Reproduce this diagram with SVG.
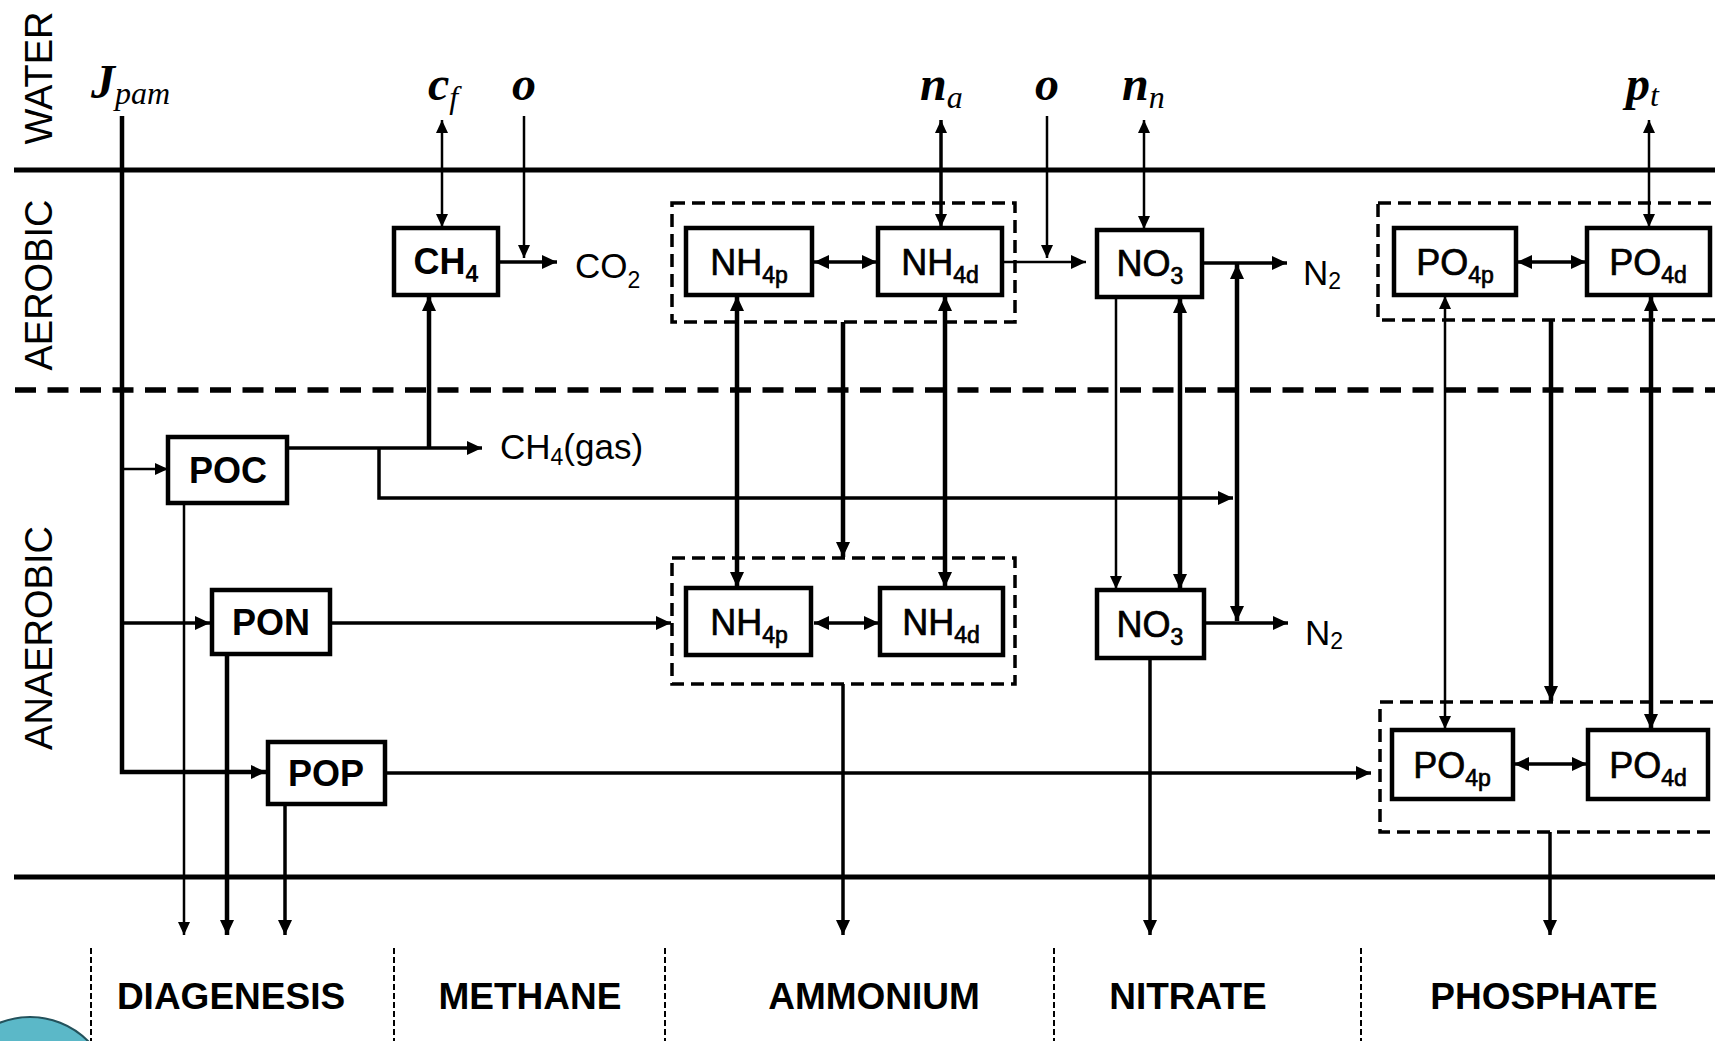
<svg xmlns="http://www.w3.org/2000/svg" width="1715" height="1041" viewBox="0 0 1715 1041">
<style>
.bx{fill:#fff;stroke:#000;stroke-width:4.5}
.db{fill:none;stroke:#000;stroke-width:3.5;stroke-dasharray:13 7}
.lb{font-family:"Liberation Sans",Arial,sans-serif;font-size:36px;text-anchor:middle;fill:#000;stroke:#000;stroke-width:0.7}
.bd{font-weight:bold;stroke-width:0}
.sub{font-size:23px}
.it{font-family:"Liberation Serif","Times New Roman",serif;font-style:italic;font-weight:bold;font-size:48px;fill:#000}
.its{font-size:32px;font-weight:normal}
.zone{font-family:"Liberation Sans",Arial,sans-serif;font-size:38px;text-anchor:middle;fill:#000}
.cat{font-family:"Liberation Sans",Arial,sans-serif;font-size:37px;font-weight:bold;text-anchor:middle;fill:#000}
.pl{font-family:"Liberation Sans",Arial,sans-serif;font-size:35px;fill:#000}
.c{fill:none;stroke:#000;stroke-linejoin:miter}
.t{stroke-width:2.5}
.m{stroke-width:3.5}
.k{stroke-width:4.5}
.sep{stroke:#000;stroke-width:2;stroke-dasharray:6 3}
</style>
<defs>
<marker id="a" markerUnits="userSpaceOnUse" markerWidth="15" markerHeight="14" refX="15" refY="7" orient="auto-start-reverse" viewBox="0 0 15 14"><path d="M0,0 L15,7 L0,14 z" fill="#000"/></marker>
<marker id="s" markerUnits="userSpaceOnUse" markerWidth="13" markerHeight="12" refX="13" refY="6" orient="auto-start-reverse" viewBox="0 0 13 12"><path d="M0,0 L13,6 L0,12 z" fill="#000"/></marker>
</defs>
<rect width="1715" height="1041" fill="#fff"/>

<g id="layers">
<line x1="14" y1="170" x2="1715" y2="170" stroke="#000" stroke-width="5"/>
<line x1="15" y1="390" x2="1715" y2="390" stroke="#000" stroke-width="5.5" stroke-dasharray="21 11.5"/>
<line x1="14" y1="877" x2="1715" y2="877" stroke="#000" stroke-width="5"/>
<text class="zone" transform="translate(52,78) rotate(-90)">WATER</text>
<text class="zone" transform="translate(52,285) rotate(-90)">AEROBIC</text>
<text class="zone" transform="translate(52,638) rotate(-90)">ANAEROBIC</text>
</g>

<g id="water-labels">
<text class="it" x="91" y="98">J<tspan class="its" dy="6">pam</tspan></text>
<text class="it" x="428" y="100">c<tspan class="its" dy="8">f</tspan></text>
<text class="it" x="524" y="100" text-anchor="middle">o</text>
<text class="it" x="920" y="100">n<tspan class="its" dy="8">a</tspan></text>
<text class="it" x="1047" y="100" text-anchor="middle">o</text>
<text class="it" x="1122" y="100">n<tspan class="its" dy="8">n</tspan></text>
<text class="it" x="1626" y="100">p<tspan class="its" dy="6">t</tspan></text>
</g>

<g id="products">
<text class="pl" x="575" y="278">CO<tspan class="sub" dy="10">2</tspan></text>
<text class="pl" x="1303" y="285">N<tspan class="sub" dy="4">2</tspan></text>
<text class="pl" x="1305" y="645">N<tspan class="sub" dy="4">2</tspan></text>
<text class="pl" x="500" y="459">CH<tspan class="sub" dy="6">4</tspan><tspan dy="-6">(gas)</tspan></text>
</g>

<g id="connectors">
<path class="c k" d="M122,116 V772 H266" marker-end="url(#a)"/>
<path class="c t" d="M122,469 H168" marker-end="url(#s)"/>
<path class="c m" d="M122,623 H210" marker-end="url(#a)"/>
<path class="c t" d="M442,120 V227" marker-start="url(#s)" marker-end="url(#s)"/>
<path class="c t" d="M524,116 V258" marker-end="url(#s)"/>
<path class="c m" d="M941,120 V227" marker-start="url(#s)" marker-end="url(#s)"/>
<path class="c t" d="M1047,116 V258" marker-end="url(#s)"/>
<path class="c t" d="M1144,120 V229" marker-start="url(#s)" marker-end="url(#s)"/>
<path class="c t" d="M1649,120 V227" marker-start="url(#s)" marker-end="url(#s)"/>
<path class="c m" d="M498,262 H557" marker-end="url(#a)"/>
<path class="c m" d="M814,262 H877" marker-start="url(#a)" marker-end="url(#a)"/>
<path class="c t" d="M1003,262 H1086" marker-end="url(#a)"/>
<path class="c m" d="M1203,263 H1287" marker-end="url(#a)"/>
<path class="c m" d="M1517,262 H1586" marker-start="url(#a)" marker-end="url(#a)"/>
<path class="c m" d="M287,448 H482" marker-end="url(#a)"/>
<path class="c k" d="M429,448 V296" marker-end="url(#a)"/>
<path class="c m" d="M379,448 V498 H1233" marker-end="url(#a)"/>
<path class="c t" d="M184,503 V935" marker-end="url(#s)"/>
<path class="c m" d="M330,623 H671" marker-end="url(#a)"/>
<path class="c k" d="M227,654 V935" marker-end="url(#a)"/>
<path class="c m" d="M385,773 H1371" marker-end="url(#a)"/>
<path class="c m" d="M285,804 V935" marker-end="url(#a)"/>
<path class="c k" d="M737,296 V587" marker-start="url(#a)" marker-end="url(#a)"/>
<path class="c k" d="M843,322 V557" marker-end="url(#a)"/>
<path class="c k" d="M945,296 V587" marker-start="url(#a)" marker-end="url(#a)"/>
<path class="c m" d="M843,684 V935" marker-end="url(#a)"/>
<path class="c m" d="M814,623 H879" marker-start="url(#a)" marker-end="url(#a)"/>
<path class="c t" d="M1116,297 V589" marker-end="url(#s)"/>
<path class="c k" d="M1180,298 V589" marker-start="url(#a)" marker-end="url(#a)"/>
<path class="c k" d="M1237,264 V621" marker-start="url(#a)" marker-end="url(#a)"/>
<path class="c m" d="M1204,623 H1288" marker-end="url(#a)"/>
<path class="c m" d="M1150,658 V935" marker-end="url(#a)"/>
<path class="c t" d="M1445,296 V729" marker-start="url(#s)" marker-end="url(#s)"/>
<path class="c k" d="M1551,320 V701" marker-end="url(#a)"/>
<path class="c k" d="M1651,296 V729" marker-start="url(#a)" marker-end="url(#a)"/>
<path class="c m" d="M1514,764 H1587" marker-start="url(#a)" marker-end="url(#a)"/>
<path class="c m" d="M1550,832 V935" marker-end="url(#a)"/>
</g>

<g id="nh4-aerobic-group"><rect class="db" x="672" y="203" width="343" height="119"/></g>
<g id="nh4-anaerobic-group"><rect class="db" x="672" y="558" width="343" height="126"/></g>
<g id="po4-aerobic-group"><rect class="db" x="1378" y="203" width="360" height="117"/></g>
<g id="po4-anaerobic-group"><rect class="db" x="1380" y="702" width="360" height="130"/></g>

<g id="ch4"><rect class="bx" x="394" y="228" width="104" height="67"/><text class="lb bd" x="446" y="274">CH<tspan class="sub" dy="8">4</tspan></text></g>
<g id="nh4p-aer"><rect class="bx" x="686" y="228" width="126" height="67"/><text class="lb" x="749" y="275">NH<tspan class="sub" dy="8">4p</tspan></text></g>
<g id="nh4d-aer"><rect class="bx" x="878" y="228" width="124" height="67"/><text class="lb" x="940" y="275">NH<tspan class="sub" dy="8">4d</tspan></text></g>
<g id="no3-aer"><rect class="bx" x="1097" y="230" width="105" height="67"/><text class="lb" x="1150" y="276">NO<tspan class="sub" dy="8">3</tspan></text></g>
<g id="po4p-aer"><rect class="bx" x="1394" y="228" width="122" height="67"/><text class="lb" x="1455" y="275">PO<tspan class="sub" dy="8">4p</tspan></text></g>
<g id="po4d-aer"><rect class="bx" x="1587" y="228" width="123" height="67"/><text class="lb" x="1648" y="275">PO<tspan class="sub" dy="8">4d</tspan></text></g>

<g id="poc"><rect class="bx" x="168" y="437" width="119" height="66"/><text class="lb bd" x="228" y="483">POC</text></g>
<g id="pon"><rect class="bx" x="212" y="590" width="118" height="64"/><text class="lb bd" x="271" y="635">PON</text></g>
<g id="pop"><rect class="bx" x="268" y="742" width="117" height="62"/><text class="lb bd" x="326" y="786">POP</text></g>

<g id="nh4p-ana"><rect class="bx" x="686" y="588" width="125" height="67"/><text class="lb" x="749" y="635">NH<tspan class="sub" dy="8">4p</tspan></text></g>
<g id="nh4d-ana"><rect class="bx" x="880" y="588" width="123" height="67"/><text class="lb" x="941" y="635">NH<tspan class="sub" dy="8">4d</tspan></text></g>
<g id="no3-ana"><rect class="bx" x="1097" y="590" width="107" height="68"/><text class="lb" x="1150" y="637">NO<tspan class="sub" dy="8">3</tspan></text></g>
<g id="po4p-ana"><rect class="bx" x="1392" y="730" width="121" height="69"/><text class="lb" x="1452" y="778">PO<tspan class="sub" dy="8">4p</tspan></text></g>
<g id="po4d-ana"><rect class="bx" x="1588" y="730" width="120" height="69"/><text class="lb" x="1648" y="778">PO<tspan class="sub" dy="8">4d</tspan></text></g>

<g id="categories">
<line class="sep" x1="91" y1="948" x2="91" y2="1041"/>
<line class="sep" x1="394" y1="948" x2="394" y2="1041"/>
<line class="sep" x1="665" y1="948" x2="665" y2="1041"/>
<line class="sep" x1="1054" y1="948" x2="1054" y2="1041"/>
<line class="sep" x1="1361" y1="948" x2="1361" y2="1041"/>
<text class="cat" x="231" y="1009">DIAGENESIS</text>
<text class="cat" x="530" y="1009">METHANE</text>
<text class="cat" x="874" y="1009">AMMONIUM</text>
<text class="cat" x="1188" y="1009">NITRATE</text>
<text class="cat" x="1544" y="1009">PHOSPHATE</text>
</g>

<g id="corner-badge"><circle cx="30" cy="1099" r="82" fill="#5BB8C8" stroke="#23525c" stroke-width="2"/></g>
</svg>
